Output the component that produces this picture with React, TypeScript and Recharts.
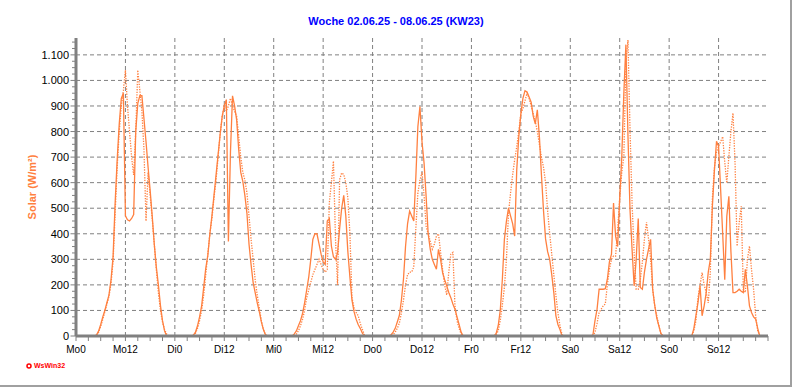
import { LineChart, Line, XAxis, YAxis, CartesianGrid } from "recharts";

// half-hourly values per day (00:00 .. 23:30), W/m²
const DAYS = ["Mo", "Di", "Mi", "Do", "Fr", "Sa", "So"];

const MO_SOLID = [0, 0, 0, 0, 0, 0, 0, 0, 0, 0, 5, 20, 45, 75, 100, 130, 160, 220, 310, 520, 690, 830, 930, 950, 470, 455, 450, 460, 475, 800, 910, 940, 940, 850, 760, 660, 570, 470, 360, 270, 200, 120, 60, 20, 0, 0, 0, 0];
const MO_DOTTED = [0, 0, 0, 0, 0, 0, 0, 0, 0, 0, 3, 15, 38, 65, 95, 125, 155, 205, 290, 480, 660, 800, 900, 960, 1040, 900, 800, 700, 630, 800, 1040, 960, 880, 730, 450, 640, 550, 460, 360, 260, 170, 100, 55, 25, 8, 0, 0, 0];

const DI_SOLID = [0, 0, 0, 0, 0, 0, 0, 0, 0, 3, 15, 40, 75, 118, 190, 265, 315, 400, 470, 550, 630, 710, 790, 860, 900, 925, 370, 720, 940, 900, 846, 730, 640, 605, 550, 480, 360, 280, 210, 170, 130, 95, 55, 25, 5, 0, 0, 0];
const DI_DOTTED = [0, 0, 0, 0, 0, 0, 0, 0, 0, 0, 10, 30, 60, 100, 160, 240, 320, 400, 460, 540, 610, 700, 790, 860, 900, 880, 900, 930, 900, 880, 860, 780, 700, 640, 610, 560, 470, 380, 300, 220, 160, 110, 60, 25, 5, 0, 0, 0];

const MI_SOLID = [0, 0, 0, 0, 0, 0, 0, 0, 0, 0, 8, 20, 40, 60, 88, 130, 180, 230, 300, 378, 400, 400, 360, 320, 290, 280, 450, 460, 352, 310, 300, 325, 420, 500, 550, 470, 330, 230, 140, 95, 66, 45, 30, 12, 0, 0, 0, 0];
const MI_DOTTED = [0, 0, 0, 0, 0, 0, 0, 0, 0, 0, 3, 8, 20, 40, 65, 100, 150, 180, 210, 240, 260, 280, 300, 280, 261, 250, 260, 520, 600, 684, 378, 200, 612, 638, 632, 600, 540, 400, 150, 110, 92, 80, 50, 27, 5, 0, 0, 0];

const DO_SOLID = [0, 0, 0, 0, 0, 0, 0, 0, 0, 5, 15, 30, 55, 80, 140, 222, 350, 440, 489, 470, 450, 620, 820, 898, 760, 677, 547, 400, 340, 300, 280, 261, 339, 300, 248, 220, 196, 170, 150, 125, 105, 75, 45, 15, 0, 0, 0, 0];
const DO_DOTTED = [0, 0, 0, 0, 0, 0, 0, 0, 0, 0, 5, 15, 30, 50, 90, 140, 200, 240, 250, 250, 270, 420, 560, 610, 640, 550, 430, 400, 370, 340, 360, 390, 400, 330, 260, 200, 160, 250, 320, 327, 118, 60, 30, 8, 0, 0, 0, 0];

const FR_SOLID = [0, 0, 0, 0, 0, 0, 0, 0, 0, 0, 0, 0, 10, 40, 100, 220, 378, 450, 500, 470, 440, 391, 650, 780, 870, 930, 960, 955, 935, 915, 860, 830, 885, 780, 630, 490, 380, 330, 300, 240, 170, 80, 45, 25, 0, 0, 0, 0];
const FR_DOTTED = [0, 0, 0, 0, 0, 0, 0, 0, 0, 0, 0, 0, 5, 20, 60, 120, 190, 300, 480, 560, 630, 690, 740, 800, 870, 890, 920, 950, 930, 900, 870, 840, 800, 750, 700, 660, 600, 490, 400, 320, 240, 160, 90, 40, 5, 0, 0, 0];

const SA_SOLID = [0, 0, 0, 0, 0, 0, 0, 0, 0, 0, 0, 5, 60, 105, 183, 183, 183, 185, 222, 290, 320, 520, 391, 350, 540, 700, 950, 1140, 786, 495, 339, 196, 300, 460, 190, 183, 250, 300, 340, 378, 183, 120, 70, 40, 10, 0, 0, 0];
const SA_DOTTED = [0, 0, 0, 0, 0, 0, 0, 0, 0, 0, 0, 0, 15, 50, 92, 105, 118, 125, 200, 261, 300, 313, 313, 417, 540, 640, 700, 1067, 1158, 807, 521, 326, 183, 183, 220, 289, 380, 445, 380, 300, 183, 118, 80, 40, 10, 0, 0, 0];

const SO_SOLID = [0, 0, 0, 0, 0, 0, 0, 0, 0, 0, 0, 0, 30, 80, 130, 196, 79, 118, 170, 250, 300, 508, 650, 762, 742, 573, 400, 220, 469, 547, 330, 170, 170, 175, 183, 175, 170, 261, 196, 118, 92, 75, 66, 30, 0, 0, 0, 0];
const SO_DOTTED = [0, 0, 0, 0, 0, 0, 0, 0, 0, 0, 0, 0, 20, 60, 150, 200, 248, 200, 170, 130, 250, 540, 660, 720, 742, 760, 780, 680, 599, 703, 800, 872, 677, 352, 443, 508, 183, 170, 300, 352, 260, 183, 79, 20, 0, 0, 0, 0];

const SOLID = [MO_SOLID, DI_SOLID, MI_SOLID, DO_SOLID, FR_SOLID, SA_SOLID, SO_SOLID];
const DOTTED = [MO_DOTTED, DI_DOTTED, MI_DOTTED, DO_DOTTED, FR_DOTTED, SA_DOTTED, SO_DOTTED];

const data = SOLID.flatMap((day, d) =>
  day.map((v, i) => ({ t: d * 24 + i * 0.5, solar: v, solar2: DOTTED[d][i] }))
);

const X_TICKS = Array.from({ length: 57 }, (_, i) => i * 3);
const GRID_X = [12, 24, 36, 48, 60, 72, 84, 96, 108, 120, 132, 144, 156];
const Y_TICKS = Array.from({ length: 47 }, (_, i) => i * 25);
const GRID_Y = [100, 200, 300, 400, 500, 600, 700, 800, 900, 1000, 1100];

const ORANGE = "#ff8040";
const FONT = '"Liberation Sans", Arial, sans-serif';

const fmtY = (v: number) =>
  v >= 1000 ? `${Math.floor(v / 1000)}.${String(v % 1000).padStart(3, "0")}` : String(v);

const fmtX = (v: number) =>
  v % 12 === 0 && v < 168 ? `${DAYS[Math.floor(v / 24)]}${v % 24}` : "";

function YTick(props: any) {
  const { x, y, payload } = props;
  const v = payload.value;
  const major = v % 100 === 0 && v <= 1100;
  return (
    <g>
      <line x1={x - (major ? 5.5 : 4)} x2={x} y1={y} y2={y} stroke="#808080" />
      {major && (
        <text x={x - 7} y={y} dy="0.36em" textAnchor="end" fontSize={11} fill="#000" fontFamily={FONT}>
          {fmtY(v)}
        </text>
      )}
    </g>
  );
}

export default function App() {
  return (
    <div style={{ position: "absolute", left: 0, top: 0, width: 792, height: 387, background: "#fff", fontFamily: FONT }}>
      <div
        style={{
          position: "absolute",
          top: 15,
          left: 0,
          width: 792,
          textAlign: "center",
          fontSize: 11,
          fontWeight: "bold",
          color: "#0000ff",
        }}
      >
        Woche 02.06.25 - 08.06.25 (KW23)
      </div>
      <div
        style={{
          position: "absolute",
          left: 32,
          top: 187,
          transform: "translate(-50%, -50%) rotate(-90deg)",
          whiteSpace: "nowrap",
          fontSize: 11,
          fontWeight: "bold",
          color: ORANGE,
        }}
      >
        Solar (W/m²)
      </div>
      <LineChart
        width={792}
        height={387}
        data={data}
        margin={{ top: 38, right: 24, left: 0, bottom: 21 }}
        style={{ position: "absolute", left: 0, top: 0 }}
      >
        <CartesianGrid
          stroke="#808080"
          strokeDasharray="4 3"
          horizontalValues={GRID_Y}
          verticalValues={GRID_X}
        />
        <XAxis
          dataKey="t"
          type="number"
          domain={[0, 168]}
          ticks={X_TICKS}
          interval={0}
          height={30}
          tickFormatter={fmtX}
          tickSize={5}
          tickMargin={5}
          axisLine={{ stroke: "#808080", strokeWidth: 3 }}
          tickLine={{ stroke: "#808080" }}
          tick={{ fill: "#000", fontSize: 10, fontFamily: FONT }}
        />
        <XAxis
          xAxisId="top"
          orientation="top"
          dataKey="t"
          type="number"
          domain={[0, 168]}
          height={0}
          tick={false}
          tickLine={false}
          axisLine={{ stroke: "#000", strokeWidth: 1.5 }}
        />
        <YAxis
          type="number"
          domain={[0, 1166]}
          ticks={Y_TICKS}
          interval={0}
          width={76}
          tickSize={0}
          tickMargin={0}
          tickLine={false}
          tick={<YTick />}
          axisLine={{ stroke: "#808080", strokeWidth: 3 }}
        />
        <YAxis
          yAxisId="right"
          orientation="right"
          width={0}
          tick={false}
          tickLine={false}
          axisLine={{ stroke: "#000", strokeWidth: 1.5 }}
        />
        <Line
          type="linear"
          dataKey="solar2"
          stroke={ORANGE}
          strokeWidth={1.3}
          strokeDasharray="1.3 1.3"
          dot={false}
          isAnimationActive={false}
        />
        <Line
          type="linear"
          dataKey="solar"
          stroke={ORANGE}
          strokeWidth={1.3}
          dot={false}
          isAnimationActive={false}
        />
      </LineChart>
      <div
        style={{
          position: "absolute",
          left: 26,
          top: 362,
          display: "flex",
          alignItems: "center",
          gap: 2,
          fontSize: 7,
          fontWeight: "bold",
          color: "#ff0000",
        }}
      >
        <svg width={6} height={6}>
          <circle cx={3} cy={3} r={2} fill="none" stroke="#ff0000" strokeWidth={1.5} />
        </svg>
        WsWin32
      </div>
      <div
        style={{
          position: "absolute",
          left: 0,
          top: 0,
          width: 792,
          height: 387,
          boxSizing: "border-box",
          borderRight: "2px solid #a0a0a0",
          borderBottom: "2px solid #a0a0a0",
          pointerEvents: "none",
        }}
      />
    </div>
  );
}
